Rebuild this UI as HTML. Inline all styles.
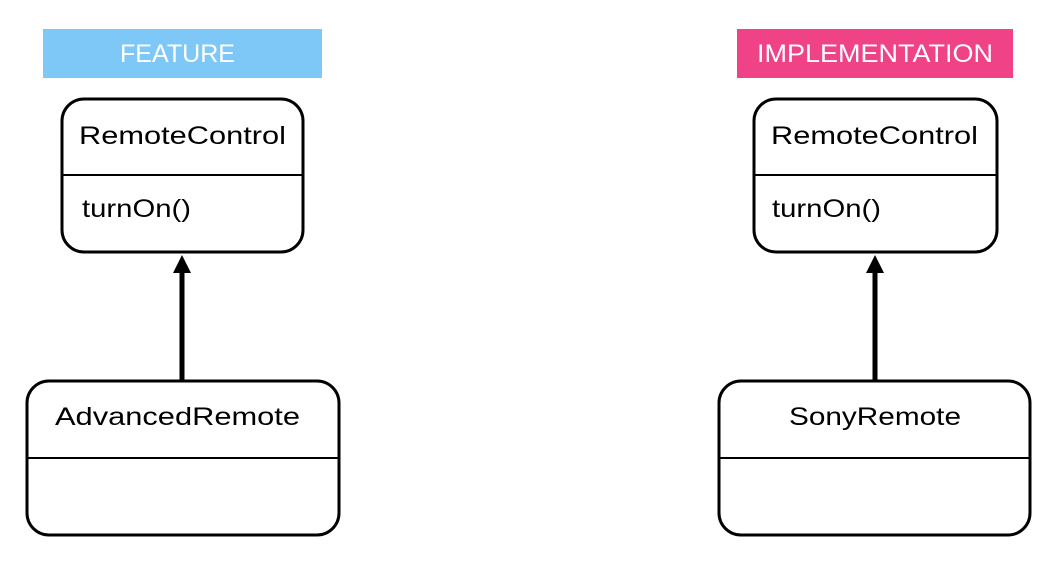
<!DOCTYPE html>
<html><head><style>
html,body{margin:0;padding:0;background:#fff;}
text{font-family:"Liberation Sans",sans-serif;}
</style></head><body>
<svg width="1059" height="556" viewBox="0 0 1059 556" xmlns="http://www.w3.org/2000/svg">
<rect x="43" y="29" width="279" height="49" fill="#7ec8f7"/>
<text x="120" y="62" font-size="25" fill="#fff" textLength="115" lengthAdjust="spacingAndGlyphs">FEATURE</text>
<rect x="737" y="29" width="276" height="49" fill="#ef4287"/>
<text x="757" y="62" font-size="25" fill="#fff" textLength="236" lengthAdjust="spacingAndGlyphs">IMPLEMENTATION</text>

<g fill="none" stroke="#000" stroke-width="3">
<rect x="62" y="99" width="241" height="153" rx="22"/>
<line x1="62" y1="175" x2="303" y2="175" stroke-width="2"/>
<rect x="27" y="381" width="312" height="154" rx="22"/>
<line x1="27" y1="458" x2="339" y2="458" stroke-width="2"/>
<rect x="754" y="99" width="243" height="153" rx="22"/>
<line x1="754" y1="175" x2="997" y2="175" stroke-width="2"/>
<rect x="719" y="381" width="311" height="154" rx="22"/>
<line x1="719" y1="458" x2="1030" y2="458" stroke-width="2"/>
<line x1="182" y1="270" x2="182" y2="381" stroke-width="5"/>
<line x1="875" y1="270" x2="875" y2="381" stroke-width="5"/>
</g>
<polygon points="182,255 173,273 191,273" fill="#000"/>
<polygon points="875,255 866,273 884,273" fill="#000"/>

<g font-size="25" fill="#000">
<text x="79" y="144" textLength="207" lengthAdjust="spacingAndGlyphs">RemoteControl</text>
<text x="82" y="217" textLength="109" lengthAdjust="spacingAndGlyphs">turnOn()</text>
<text x="55" y="425" textLength="245" lengthAdjust="spacingAndGlyphs">AdvancedRemote</text>
<text x="771" y="144" textLength="207" lengthAdjust="spacingAndGlyphs">RemoteControl</text>
<text x="772" y="217" textLength="109" lengthAdjust="spacingAndGlyphs">turnOn()</text>
<text x="789" y="425" textLength="172" lengthAdjust="spacingAndGlyphs">SonyRemote</text>
</g>
</svg>
</body></html>
